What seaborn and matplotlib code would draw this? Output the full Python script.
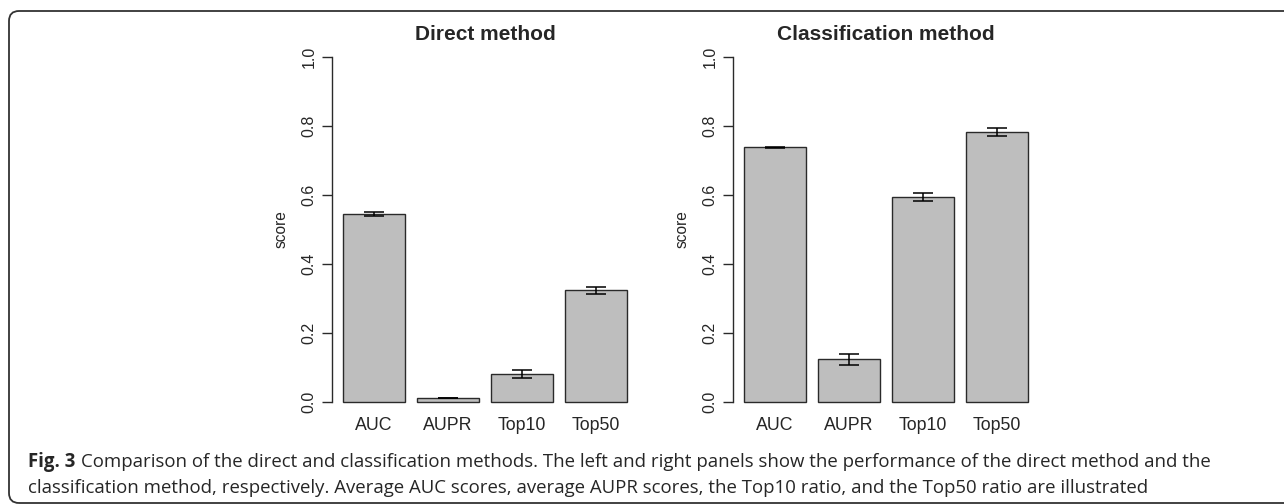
import matplotlib

matplotlib.use("Agg")
import matplotlib.pyplot as plt  # noqa: E402
import pandas as pd  # noqa: E402
import seaborn as sns  # noqa: E402
from matplotlib.patches import FancyBboxPatch  # noqa: E402
from matplotlib.transforms import IdentityTransform  # noqa: E402

sns.set_theme(style="white")
plt.rcParams["font.family"] = ["Liberation Sans", "DejaVu Sans"]

# values
metrics = ["AUC", "AUPR", "Top10", "Top50"]
direct_scores = [0.545, 0.012, 0.081, 0.324]
direct_errors = [0.007, 0.0008, 0.012, 0.0095]
classification_scores = [0.738, 0.124, 0.595, 0.783]
classification_errors = [0.0012, 0.016, 0.012, 0.012]

panel_titles = ["Direct method", "Classification method"]
y_ticks = [0.0, 0.2, 0.4, 0.6, 0.8, 1.0]
caption_label = "Fig. 3"
caption_lines = [
    "Comparison of the direct and classification methods. The left and right "
    "panels show the performance of the direct method and the",
    "classification method, respectively. Average AUC scores, average AUPR "
    "scores, the Top10 ratio, and the Top50 ratio are illustrated",
]

BAR_GREY = "#bebebe"
EDGE = "#2a2a2a"
W, H = 1284, 504


def draw_panel(ax: plt.Axes, title: str, scores: list, errors: list) -> None:
    df = pd.DataFrame({"metric": metrics, "score": scores})
    sns.barplot(
        data=df, x="metric", y="score", color=BAR_GREY, saturation=1,
        width=0.833, edgecolor=EDGE, linewidth=1.0, errorbar=None, ax=ax,
    )
    ax.errorbar(
        x=range(len(metrics)), y=scores, yerr=errors, fmt="none",
        ecolor="black", elinewidth=1.1, capsize=7.5, capthick=1.1,
    )
    ax.set_xlim(-0.57, 3.57)
    ax.set_ylim(-0.04, 1.04)
    ax.set_yticks(y_ticks)
    ax.set_yticklabels([f"{t:.1f}" for t in y_ticks], rotation=90, va="center",
                       fontsize=11.5)
    ax.tick_params(axis="y", length=7.2, width=1.0, color=EDGE, pad=4,
                   left=True)
    ax.tick_params(axis="x", length=0, pad=1, labelsize=12.8)
    for side in ["top", "right", "bottom"]:
        ax.spines[side].set_visible(False)
    ax.spines["left"].set_bounds(0, 1)
    ax.spines["left"].set_color(EDGE)
    ax.spines["left"].set_linewidth(1.0)
    ax.set_xlabel("")
    ax.set_ylabel("score", fontsize=11.2, labelpad=9)
    ax.set_title(title, fontsize=15, fontweight="bold", pad=2)


fig = plt.figure(figsize=(W / 100, H / 100), dpi=100)
ax_left = fig.add_axes([332 / W, 1 - 416 / H, 306 / W, 373 / H])
ax_right = fig.add_axes([733 / W, 1 - 416 / H, 306 / W, 373 / H])
ax_left.set_facecolor("none")
ax_right.set_facecolor("none")

draw_panel(ax_left, panel_titles[0], direct_scores, direct_errors)
draw_panel(ax_right, panel_titles[1], classification_scores, classification_errors)

# rounded frame, open on the right like the journal crop
frame = FancyBboxPatch(
    (9, 1), 1400, H - 12, boxstyle="round,pad=0,rounding_size=10",
    transform=IdentityTransform(), fill=False, edgecolor="#333333", linewidth=1.3,
)
fig.add_artist(frame)

# caption: bold label followed by regular text, scaled to the reference width
cap_family = ["Open Sans", "DejaVu Sans"]
renderer = fig.canvas.get_renderer()
x0, gap, right_edge = 28, 6, 1213
probe_b = fig.text(0, 0, caption_label, fontsize=10, fontweight="bold",
                   family=cap_family)
probe_r = fig.text(0, 0, caption_lines[0], fontsize=10, family=cap_family)
wb = probe_b.get_window_extent(renderer).width
wr = probe_r.get_window_extent(renderer).width
probe_b.remove()
probe_r.remove()
cap_size = 10 * (right_edge - x0 - gap) / (wb + wr)

baselines = [467, 493]
lab = fig.text(x0 / W, 1 - baselines[0] / H, caption_label, fontsize=cap_size,
               fontweight="bold", family=cap_family, va="baseline")
lab_w = lab.get_window_extent(renderer).width
fig.text((x0 + lab_w + gap) / W, 1 - baselines[0] / H, caption_lines[0],
         fontsize=cap_size, family=cap_family, va="baseline")
fig.text(x0 / W, 1 - baselines[1] / H, caption_lines[1], fontsize=cap_size,
         family=cap_family, va="baseline")

fig.savefig("out.png", dpi=100)
plt.close(fig)
